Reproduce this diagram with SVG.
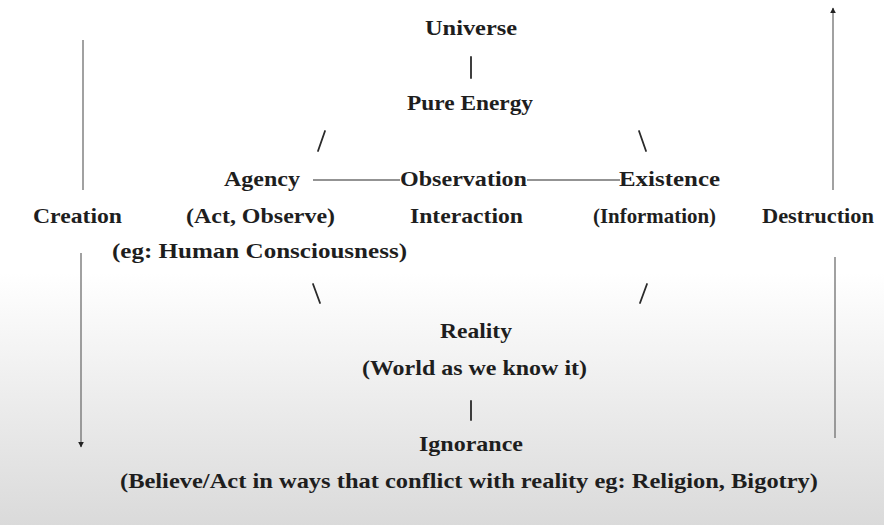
<svg xmlns="http://www.w3.org/2000/svg" width="884" height="525" viewBox="0 0 884 525">
<defs>
<linearGradient id="bg" x1="0" y1="0" x2="0" y2="1">
<stop offset="0" stop-color="#ffffff"/>
<stop offset="0.52" stop-color="#ffffff"/>
<stop offset="1" stop-color="#dadada"/>
</linearGradient>
<marker id="ah" viewBox="0 0 10 10" refX="9" refY="5" markerWidth="6" markerHeight="6" orient="auto" markerUnits="userSpaceOnUse">
<path d="M0,0 L10,5 L0,10 z" fill="#222"/>
</marker>
<style>
text{font-family:"Liberation Serif","Times New Roman",serif;font-weight:bold;font-size:22px;fill:#1e1e1e;}
.ln{stroke:#6f6f6f;stroke-width:1.3;fill:none;}
.sl{stroke:#2a2a2a;stroke-width:1.8;stroke-linecap:round;fill:none;}
</style>
</defs>
<rect x="0" y="0" width="884" height="525" fill="url(#bg)"/>

<g id="connectors">
<line class="ln" x1="83" y1="40" x2="83" y2="190"/>
<line class="ln" x1="81" y1="253" x2="81" y2="447" marker-end="url(#ah)"/>
<line class="ln" x1="833" y1="190" x2="833" y2="8" marker-end="url(#ah)"/>
<line class="ln" x1="835" y1="257" x2="835" y2="438"/>
<line class="ln" x1="313" y1="180" x2="400" y2="180"/>
<line class="ln" x1="527" y1="180" x2="620" y2="180"/>
<line class="sl" x1="471" y1="57" x2="471" y2="78"/>
<line class="sl" x1="318" y1="151" x2="325" y2="131"/>
<line class="sl" x1="639" y1="131" x2="646" y2="151"/>
<line class="sl" x1="313" y1="284" x2="320" y2="303"/>
<line class="sl" x1="647" y1="284" x2="640" y2="303"/>
<line class="sl" x1="471" y1="401" x2="471" y2="420"/>
</g>

<g id="universe"><text x="425" y="35" textLength="92" lengthAdjust="spacingAndGlyphs">Universe</text></g>
<g id="pure-energy"><text x="407" y="110" textLength="126" lengthAdjust="spacingAndGlyphs">Pure Energy</text></g>
<g id="agency">
<text x="224" y="186" textLength="76" lengthAdjust="spacingAndGlyphs">Agency</text>
<text x="186" y="223" textLength="149" lengthAdjust="spacingAndGlyphs">(Act, Observe)</text>
<text x="112" y="258" textLength="295" lengthAdjust="spacingAndGlyphs">(eg: Human Consciousness)</text>
</g>
<g id="observation">
<text x="400" y="186" textLength="127" lengthAdjust="spacingAndGlyphs">Observation</text>
<text x="410" y="223" textLength="113" lengthAdjust="spacingAndGlyphs">Interaction</text>
</g>
<g id="existence">
<text x="619" y="186" textLength="101" lengthAdjust="spacingAndGlyphs">Existence</text>
<text x="593" y="223" textLength="123" lengthAdjust="spacingAndGlyphs">(Information)</text>
</g>
<g id="creation"><text x="33" y="223" textLength="89" lengthAdjust="spacingAndGlyphs">Creation</text></g>
<g id="destruction"><text x="762" y="223" textLength="112" lengthAdjust="spacingAndGlyphs">Destruction</text></g>
<g id="reality">
<text x="440" y="338" textLength="72" lengthAdjust="spacingAndGlyphs">Reality</text>
<text x="362" y="375" textLength="225" lengthAdjust="spacingAndGlyphs">(World as we know it)</text>
</g>
<g id="ignorance">
<text x="419" y="451" textLength="104" lengthAdjust="spacingAndGlyphs">Ignorance</text>
<text x="120" y="488" textLength="698" lengthAdjust="spacingAndGlyphs">(Believe/Act in ways that conflict with reality eg: Religion, Bigotry)</text>
</g>
</svg>
